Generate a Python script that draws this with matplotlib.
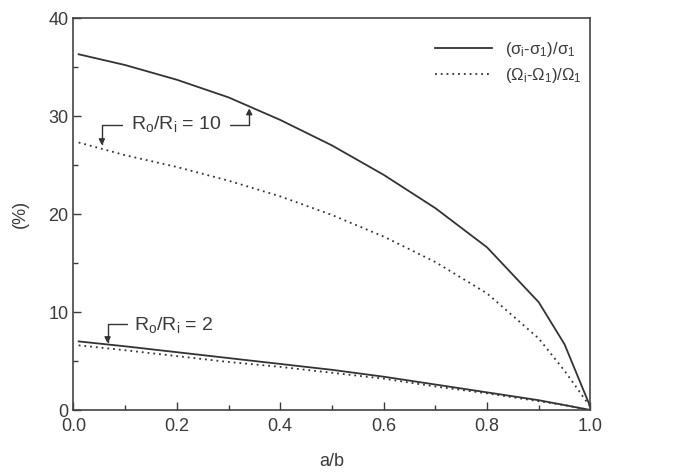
import numpy as np
import matplotlib
matplotlib.use("Agg")
import matplotlib.pyplot as plt

plt.rcParams['font.family'] = ['Liberation Sans', 'DejaVu Sans']
plt.rcParams['mathtext.default'] = 'regular'

# a/b positions
ab = [0.01, 0.1, 0.2, 0.3, 0.4, 0.5, 0.6, 0.7, 0.8, 0.9, 0.95, 1.0]

# Ro/Ri = 10
sigma_10 = [36.3, 35.2, 33.7, 31.9, 29.6, 27.0, 24.0, 20.6, 16.6, 11.0, 6.7, 0.3]
omega_10 = [27.3, 26.0, 24.8, 23.4, 21.8, 19.9, 17.7, 15.1, 11.9, 7.3, 4.0, 0.3]

# Ro/Ri = 2
sigma_2 = [7.0, 6.5, 5.9, 5.3, 4.7, 4.1, 3.4, 2.6, 1.8, 1.0, 0.5, 0.0]
omega_2 = [6.6, 6.1, 5.5, 4.9, 4.4, 3.8, 3.2, 2.4, 1.7, 0.9, 0.5, 0.0]

label_sigma = r'($\sigma_i$-$\sigma_1$)/$\sigma_1$'
label_omega = r'($\Omega_i$-$\Omega_1$)/$\Omega_1$'

fig = plt.figure(figsize=(6.74, 4.74), dpi=100)
ax = fig.add_axes([0.109, 0.135, 0.767, 0.827])

c = '#333333'
tc = '#3a3a3a'
dots = (0, (1, 2.2))
ax.plot(ab, sigma_10, color=c, lw=1.3, label=label_sigma)
ax.plot(ab, omega_10, color=c, lw=1.3, ls=dots, label=label_omega)
ax.plot(ab, sigma_2, color=c, lw=1.3)
ax.plot(ab, omega_2, color=c, lw=1.3, ls=dots)

ax.set_xlim(0, 1.0)
ax.set_ylim(0, 40)
ax.set_xticks(np.arange(0, 1.01, 0.2))
ax.set_xticks(np.arange(0.1, 1.0, 0.2), minor=True)
ax.set_yticks(np.arange(0, 41, 10))
ax.set_yticks(np.arange(5, 40, 10), minor=True)
ax.xaxis.set_major_formatter(matplotlib.ticker.FormatStrFormatter('%.1f'))
ax.tick_params(which='both', direction='in', labelsize=13, colors=tc)
ax.tick_params(which='major', length=6, width=1)
ax.tick_params(axis='x', which='major', pad=6)
ax.tick_params(which='minor', length=3.5, width=1)
for s in ax.spines.values():
    s.set_color('#444444')
    s.set_linewidth(1.2)

ax.set_xlabel('a/b', fontsize=13, color=tc, labelpad=13)
ax.set_ylabel('(%)', fontsize=13, color=tc, labelpad=14)

leg = ax.legend(loc='upper left', bbox_to_anchor=(0.70, 0.945), frameon=False,
                borderpad=0, borderaxespad=0,
                fontsize=12, handlelength=3.4, handletextpad=0.8, labelspacing=0.45)
for t in leg.get_texts():
    t.set_color(tc)

# annotations
ap = dict(arrowstyle='-|>', color=c, lw=1.0, mutation_scale=9, shrinkA=0, shrinkB=0,
          connectionstyle='angle,angleA=0,angleB=90,rad=0')
ax.text(0.20, 29.2, r'R$_o$/R$_i$ = 10', ha='center', va='center', fontsize=14, color=tc)
ax.annotate('', xy=(0.055, 27.0), xytext=(0.093, 29.1), arrowprops=ap)
ax.annotate('', xy=(0.34, 30.8), xytext=(0.302, 29.1), arrowprops=ap)

ax.text(0.195, 8.7, r'R$_o$/R$_i$ = 2', ha='center', va='center', fontsize=14, color=tc)
ax.annotate('', xy=(0.066, 6.8), xytext=(0.103, 8.8), arrowprops=ap)

fig.savefig('out.png', dpi=100)
